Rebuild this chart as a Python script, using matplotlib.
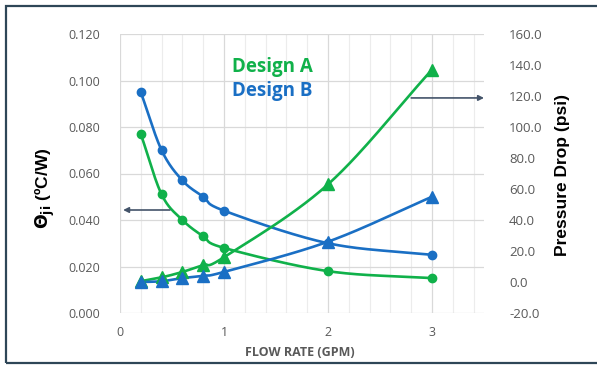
import numpy as np
import matplotlib
matplotlib.use('Agg')
import matplotlib.pyplot as plt
from matplotlib.patches import Rectangle
from matplotlib.ticker import MultipleLocator, FormatStrFormatter

# Flow rate (GPM)
flow = [0.2, 0.4, 0.6, 0.8, 1.0, 2.0, 3.0]

# Thermal resistance theta_ji (C/W)
theta_a = [0.077, 0.051, 0.040, 0.033, 0.028, 0.018, 0.015]
theta_b = [0.095, 0.070, 0.057, 0.050, 0.044, 0.030, 0.025]

# Pressure drop (psi)
dp_a = [0.5, 3.0, 6.5, 11.0, 16.0, 63.0, 137.0]
dp_b = [0.0, 0.5, 2.5, 4.0, 6.5, 26.0, 55.0]

GREEN = '#10b14a'
BLUE = '#1a6fc4'
GREY = '#595959'
ARROW = '#44546a'


def smooth(x, y, n=30):
    # Catmull-Rom style smoothing like the spreadsheet's "smoothed line"
    x = np.asarray(x, float); y = np.asarray(y, float)
    px = np.concatenate([[2*x[0]-x[1]], x, [2*x[-1]-x[-2]]])
    py = np.concatenate([[2*y[0]-y[1]], y, [2*y[-1]-y[-2]]])
    xs, ys = [], []
    t = np.linspace(0, 1, n)
    for i in range(1, len(px) - 2):
        p0, p1, p2, p3 = [np.array([px[j], py[j]]) for j in (i-1, i, i+1, i+2)]
        c1 = p1 + (p2 - p0) / 6
        c2 = p2 - (p3 - p1) / 6
        b = ((1-t)**3)[:, None]*p1 + (3*(1-t)**2*t)[:, None]*c1 \
            + (3*(1-t)*t**2)[:, None]*c2 + (t**3)[:, None]*p2
        xs.extend(b[:, 0]); ys.extend(b[:, 1])
    return xs, ys


fig = plt.figure(figsize=(5.97, 3.69), dpi=100)
ax = fig.add_axes([120/597, 1-313/369, 364/597, 279/369])
ax2 = ax.twinx()

ax.set_xlim(0, 3.5)
ax.set_ylim(0, 0.12)
ax2.set_ylim(-20, 160)

# grid
ax.xaxis.set_major_locator(MultipleLocator(1))
ax.xaxis.set_minor_locator(MultipleLocator(0.2))
ax.yaxis.set_major_locator(MultipleLocator(0.02))
ax.grid(True, which='major', color='#d9d9d9', lw=0.9)
ax.grid(True, which='minor', axis='x', color='#ececec', lw=0.8)
ax.set_axisbelow(True)
for a in (ax, ax2):
    for s in a.spines.values():
        s.set_visible(False)

ax.yaxis.set_major_formatter(FormatStrFormatter('%.3f'))
ax2.yaxis.set_major_locator(MultipleLocator(20))
ax2.yaxis.set_major_formatter(FormatStrFormatter('%.1f'))
ax.tick_params(axis='both', which='both', length=0, labelcolor=GREY,
               labelsize=9)
ax.tick_params(axis='y', pad=14)
ax.tick_params(axis='x', pad=9)
ax2.tick_params(axis='y', length=0, labelcolor=GREY, labelsize=9.5, pad=18)
for lab in ax.get_yticklabels() + ax.get_xticklabels() + ax2.get_yticklabels():
    lab.set_family('Open Sans')

# thermal resistance curves (circles, left axis)
for y, c in ((theta_a, GREEN), (theta_b, BLUE)):
    sx, sy = smooth(flow, y)
    ax.plot(sx, sy, color=c, lw=1.9, zorder=3)
    ax.plot(flow, y, 'o', color=c, ms=6, zorder=4)

# pressure drop curves (triangles, right axis)
for y, c in ((dp_a, GREEN), (dp_b, BLUE)):
    sx, sy = smooth(flow, y)
    ax2.plot(sx, sy, color=c, lw=1.9, zorder=3)
    ax2.plot(flow, y, '^', color=c, ms=8, zorder=4)

# arrows pointing at the relevant axes
ax.annotate('', xy=(0.03, 0.0443), xytext=(0.48, 0.0443),
            arrowprops=dict(arrowstyle='-|>', color=ARROW, lw=1.2,
                            mutation_scale=8, shrinkA=0, shrinkB=0),
            annotation_clip=False, zorder=5)
ax.annotate('', xy=(3.5, 0.0925), xytext=(2.8, 0.0925),
            arrowprops=dict(arrowstyle='-|>', color=ARROW, lw=1.2,
                            mutation_scale=8, shrinkA=0, shrinkB=0),
            annotation_clip=False, zorder=5)

# legend-like labels
fig.text(232/597, 1-67/369, 'Design A', color=GREEN, fontsize=13.5,
         fontweight='bold', family='Open Sans', va='center', ha='left')
fig.text(232/597, 1-91/369, 'Design B', color=BLUE, fontsize=13.5,
         fontweight='bold', family='Open Sans', va='center', ha='left')

# axis labels
fig.text(45/597, 1-188/369, r'$\mathbf{\Theta}_{\mathbf{ji}}$ (ºC/W)',
         rotation=90, fontsize=12.5, fontweight='bold',
         family='Liberation Sans', va='center', ha='center', color='black')
fig.text(563/597, 1-175/369, 'Pressure Drop (psi)', rotation=90,
         fontsize=12.5, fontweight='bold', family='Liberation Sans',
         va='center', ha='center', color='black')
fig.text(300/597, 1-352/369, 'FLOW RATE (GPM)', fontsize=9,
         fontweight='bold', family='Open Sans', color=GREY,
         va='center', ha='center')

# outer frame
fig.patches.append(Rectangle((6/597, 1-363/369), 1.0, 357/369,
                             transform=fig.transFigure, fill=False,
                             edgecolor='#2e4657', lw=1.6))

fig.savefig('out.png', dpi=100)
